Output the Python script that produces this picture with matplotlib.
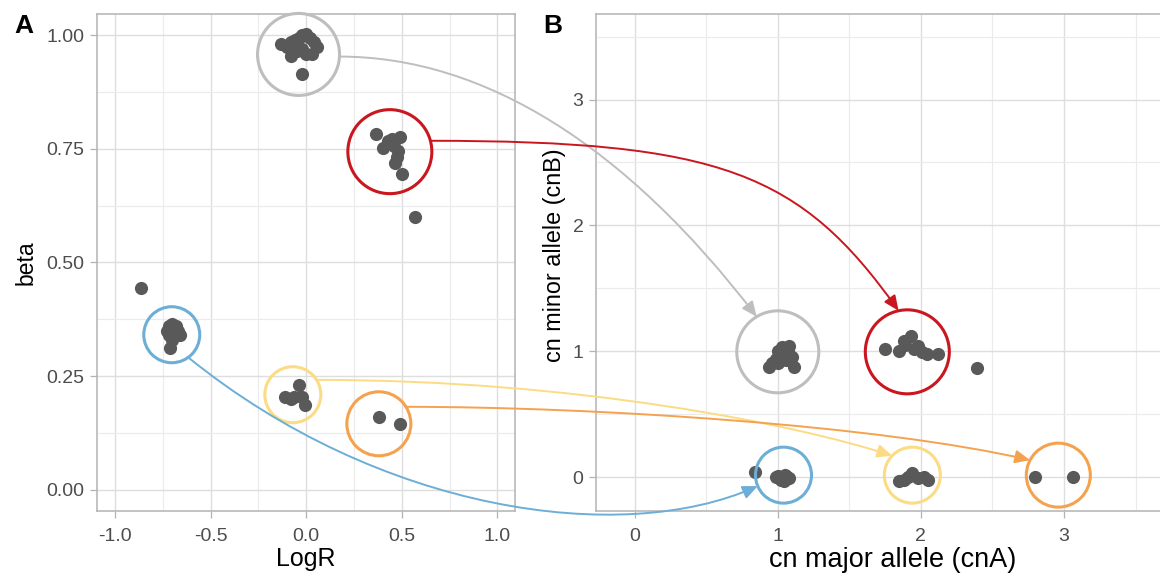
import numpy as np
import matplotlib
matplotlib.use('Agg')
import matplotlib.pyplot as plt
from matplotlib.patches import FancyArrowPatch
from matplotlib.path import Path
from matplotlib.ticker import MultipleLocator, FormatStrFormatter

plt.rcParams['font.family'] = ['Liberation Sans', 'DejaVu Sans']

# ---- data ----
# panel A: LogR vs beta, one list per cluster (outliers kept with their cluster)
grey_logr = [-0.13, -0.10, -0.08, -0.06, -0.04, -0.02, 0.0, 0.02, 0.04, 0.055, -0.05, 0.0, 0.03, -0.08, -0.02, -0.02]
grey_beta = [0.98, 0.975, 0.955, 0.99, 0.995, 1.0, 1.002, 0.995, 0.985, 0.975, 0.965, 0.96, 0.958, 0.985, 0.97, 0.914]
red_logr = [0.364, 0.40, 0.43, 0.447, 0.49, 0.46, 0.475, 0.465, 0.50, 0.48, 0.568]
red_beta = [0.782, 0.753, 0.767, 0.771, 0.777, 0.757, 0.733, 0.72, 0.694, 0.745, 0.60]
blue_logr = [-0.72, -0.70, -0.68, -0.67, -0.72, -0.70, -0.66, -0.69, -0.71, -0.73, -0.865]
blue_beta = [0.36, 0.365, 0.36, 0.35, 0.34, 0.33, 0.34, 0.345, 0.312, 0.35, 0.443]
yellow_logr = [-0.04, -0.11, -0.063, -0.02, -0.005, -0.08]
yellow_beta = [0.231, 0.205, 0.205, 0.203, 0.187, 0.20]
orange_logr = [0.38, 0.49]
orange_beta = [0.159, 0.145]

# panel B: copy number major (cnA) vs minor (cnB)
grey_cna = [0.94, 1.11, 1.03, 1.07, 0.99, 1.0, 0.96, 1.05, 1.08, 1.02, 1.06, 1.0, 1.1]
grey_cnb = [0.876, 0.876, 1.03, 1.0, 0.94, 0.91, 0.91, 0.97, 1.04, 0.98, 0.93, 1.0, 0.95]
red_cna = [1.75, 1.85, 1.88, 1.93, 1.89, 1.98, 2.01, 2.04, 2.12, 1.95, 2.39]
red_cnb = [1.02, 1.0, 1.08, 1.12, 1.05, 1.04, 0.99, 0.98, 0.98, 1.02, 0.87]
blue_cna = [1.0, 1.03, 1.06, 1.08, 1.02, 1.05, 0.99, 1.04, 0.84]
blue_cnb = [0.01, 0.0, 0.005, -0.01, -0.02, 0.02, 0.0, -0.03, 0.04]
yellow_cna = [1.88, 1.94, 1.98, 2.05, 2.02, 1.85, 1.91]
yellow_cnb = [-0.02, 0.03, -0.01, -0.02, 0.0, -0.03, 0.0]
orange_cna = [2.80, 3.06]
orange_cnb = [0.0, 0.0]

# circled groups: centre in A, centre in B
groups = ['grey', 'red', 'blue', 'yellow', 'orange']
circle_a_x = [-0.04, 0.4375, -0.703, -0.07, 0.38]
circle_a_y = [0.958, 0.744, 0.341, 0.209, 0.145]
circle_b_x = [1.0, 1.905, 1.04, 1.94, 2.96]
circle_b_y = [0.995, 0.995, 0.015, 0.015, 0.015]

# ---- style ----
colors = {'grey': '#BEBEBE', 'red': '#C9161F', 'blue': '#6CAED6',
	'yellow': '#FBDC84', 'orange': '#F5A24E'}
radius_px = {'grey': 41, 'red': 42, 'blue': 28, 'yellow': 28, 'orange': 32}
# arrow: angle leaving circle A, angle entering circle B,
# tangent at start, tangent at end, handle lengths (px)
arrow_geom = {
	'grey': (-3, 121, 0, -52.6, 145, 214),
	'red': (15, 102, 0, -54.6, 290, 169),
	'yellow': (32, 136, 0, -18, 260, 100),
	'orange': (32, 152, 0, -13, 190, 154),
	'blue': (-54, 203, -39, 24, 245, 150),
}
dot_color = '#595959'
W, H = 1160, 578

fig = plt.figure(figsize=(W / 100, H / 100), dpi=100)
axA = fig.add_axes([97 / W, 67 / H, 418 / W, 497 / H])
axB = fig.add_axes([596 / W, 67 / H, 594 / W, 497 / H])


def style_axis(ax):
	ax.set_facecolor('white')
	for s in ax.spines.values():
		s.set_color('#B3B3B3')
		s.set_linewidth(1.1)
	ax.grid(True, which='major', color='#DEDEDE', lw=1.0)
	ax.grid(True, which='minor', color='#EBEBEB', lw=0.8)
	ax.set_axisbelow(True)
	ax.tick_params(which='major', length=5, width=0.9, color='#B3B3B3',
		labelcolor='#4D4D4D', labelsize=14, pad=4)
	ax.tick_params(axis='x', which='major', pad=7)
	ax.tick_params(which='minor', length=0)


style_axis(axA)
axA.set_xlim(-1.094, 1.092)
axA.set_ylim(-0.047, 1.047)
axA.xaxis.set_major_locator(MultipleLocator(0.5))
axA.xaxis.set_minor_locator(MultipleLocator(0.25))
axA.yaxis.set_major_locator(MultipleLocator(0.25))
axA.yaxis.set_minor_locator(MultipleLocator(0.125))
axA.xaxis.set_major_formatter(FormatStrFormatter('%.1f'))
axA.yaxis.set_major_formatter(FormatStrFormatter('%.2f'))
axA.set_xlabel('LogR', fontsize=18, labelpad=2)
axA.set_ylabel('beta', fontsize=16.5)
axA.yaxis.set_label_coords(-(97 - 38) / 418, (510 - 262) / 497)

style_axis(axB)
axB.set_xlim(-0.27, 3.88)
axB.set_ylim(-0.27, 3.68)
axB.xaxis.set_major_locator(MultipleLocator(1))
axB.xaxis.set_minor_locator(MultipleLocator(0.5))
axB.yaxis.set_major_locator(MultipleLocator(1))
axB.yaxis.set_minor_locator(MultipleLocator(0.5))
axB.set_xlabel('cn major allele (cnA)', fontsize=19.5, labelpad=2)
axB.set_ylabel('cn minor allele (cnB)', fontsize=16.8)
axB.yaxis.set_label_coords(-(596 - 566) / 594, (510 - 254) / 497)

# points
for xs, ys in [(grey_logr, grey_beta), (red_logr, red_beta), (blue_logr, blue_beta),
		(yellow_logr, yellow_beta), (orange_logr, orange_beta)]:
	axA.scatter(xs, ys, s=90, color=dot_color, lw=0, zorder=3)
for xs, ys in [(grey_cna, grey_cnb), (red_cna, red_cnb), (blue_cna, blue_cnb),
		(yellow_cna, yellow_cnb), (orange_cna, orange_cnb)]:
	axB.scatter(xs, ys, s=90, color=dot_color, lw=0, zorder=3)

# rings around the groups (radius given in pixels)
for i, g in enumerate(groups):
	d_pt = 2 * radius_px[g] * 72 / 100
	for ax, cx, cy in [(axA, circle_a_x[i], circle_a_y[i]), (axB, circle_b_x[i], circle_b_y[i])]:
		ax.scatter([cx], [cy], s=d_pt ** 2, facecolors='none',
			edgecolors=colors[g], linewidths=2.2, zorder=4, clip_on=False)


def edge_point(ax, cx, cy, r, ang):
	x, y = ax.transData.transform((cx, cy))
	a = np.radians(ang)
	return np.array([x + r * np.cos(a), y + r * np.sin(a)])


# curved arrows from panel A to panel B (drawn in pixel space)
for i, g in enumerate(groups):
	a_out, a_in, t0, t1, h0, h1 = arrow_geom[g]
	r = radius_px[g]
	p0 = edge_point(axA, circle_a_x[i], circle_a_y[i], r, a_out)
	p3 = edge_point(axB, circle_b_x[i], circle_b_y[i], r, a_in)
	p1 = p0 + h0 * np.array([np.cos(np.radians(t0)), np.sin(np.radians(t0))])
	p2 = p3 - h1 * np.array([np.cos(np.radians(t1)), np.sin(np.radians(t1))])
	verts = np.array([p0, p1, p2, p3]) / np.array([W, H])
	path = Path(verts, [Path.MOVETO, Path.CURVE4, Path.CURVE4, Path.CURVE4])
	arr = FancyArrowPatch(path=path, transform=fig.transFigure,
		arrowstyle='-|>,head_length=9,head_width=4', mutation_scale=1,
		color=colors[g], lw=1.4, zorder=10)
	fig.add_artist(arr)

fig.text(24 / W, 1 - 26 / H, 'A', fontsize=19, fontweight='bold', ha='center', va='center')
fig.text(553 / W, 1 - 26 / H, 'B', fontsize=19, fontweight='bold', ha='center', va='center')

fig.savefig('out.png', dpi=100)
